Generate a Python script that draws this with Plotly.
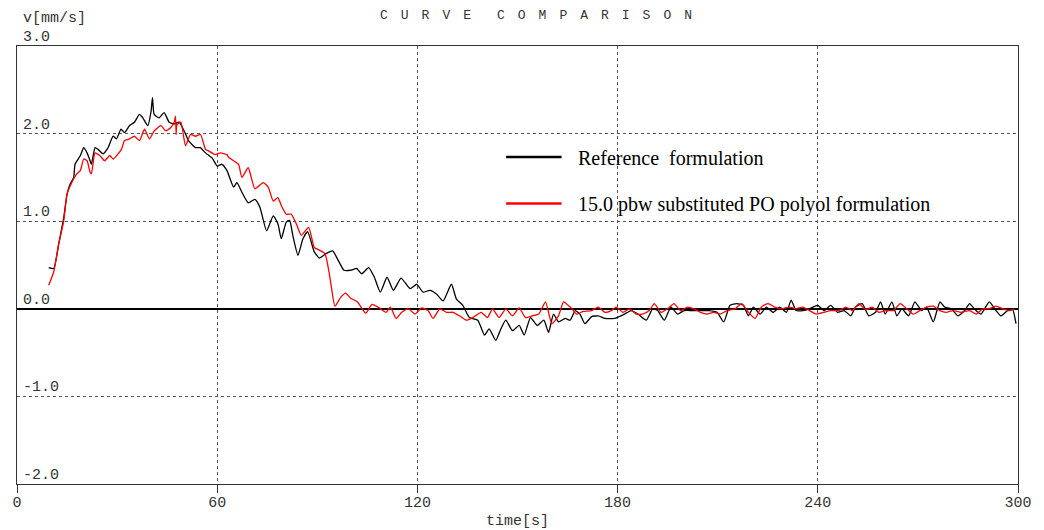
import plotly.graph_objects as go

# Velocity curves v[mm/s] over time[s]
ref_t = [9.5, 11, 12.5, 14, 15, 16, 17, 17.4, 19, 20, 21, 21.9, 22.3, 23.4, 24.3, 25.8, 27.3, 28.8, 29.8,
         31.2, 32.2, 33.7, 35.2, 36.7, 37.7, 39.2, 40.2, 40.6, 41.1, 42.6, 44.1, 45.6, 47.1, 48.6, 50.1,
         51.4, 53.5, 54.9, 56.5, 58.5, 60, 61.4, 62.9, 64.9, 65.9, 67.4, 69.3, 71.3, 72.8, 74.8, 76.8,
         78.2, 79.2, 80.7, 81.7, 82.7, 84.2, 85.7, 87.1, 89.1, 90.6, 92.6, 94.6, 96.3, 98, 100, 101.8,
         103.3, 105.4, 107.1, 108.9, 110.9, 112.8, 115.1, 117.8, 119.8, 121.7, 123.7, 125.7, 127.7, 130.2,
         131.7, 133.6, 135.6, 138.1, 140.1, 141.5, 143.5, 145, 146.5, 148.5, 150.5, 152, 153.9, 155.9,
         157.9, 159.3, 160.8, 162.3, 164.3, 165.8, 167.3, 168.7, 170.2, 172.2, 174.2, 176.2, 179.1, 182.1,
         184.1, 186.1, 188.6, 190.5, 192, 194, 196, 198, 199.9, 202.4, 204.8, 207.3, 209.8, 211.8, 213.7,
         215.7, 217.7, 219.2, 220.7, 222.7, 224.6, 226.6, 228.6, 230.6, 232, 233.5, 235.5, 237.5, 240,
         241.9, 243.9, 245.9, 247.9, 249.9, 251.3, 253.3, 255.3, 257.3, 258.8, 260.2, 262.2, 263.7, 265.2,
         267.2, 269.1, 271.1, 272.6, 274.6, 276.6, 278, 280, 282, 284, 285.5, 286.9, 288.9, 291.4, 293.4,
         294.9, 296.9, 298.4, 299.4]
ref_v = [0.47, 0.46, 0.74, 1.04, 1.31, 1.43, 1.50, 1.65, 1.75, 1.84, 1.78, 1.69, 1.65, 1.84, 1.82, 1.77, 1.84,
         1.97, 1.94, 2.05, 2.01, 2.09, 2.13, 2.22, 2.18, 2.09, 2.26, 2.41, 2.22, 2.18, 2.24, 2.13, 2.11, 2.13,
         2.03, 1.92, 1.84, 1.84, 1.78, 1.72, 1.63, 1.65, 1.58, 1.39, 1.44, 1.33, 1.21, 1.25, 1.16, 0.89, 1.06,
         0.97, 0.80, 0.99, 1.01, 0.83, 0.61, 0.80, 0.88, 0.65, 0.58, 0.63, 0.66, 0.55, 0.44, 0.44, 0.46,
         0.40, 0.47, 0.36, 0.19, 0.36, 0.21, 0.35, 0.23, 0.28, 0.19, 0.21, 0.17, 0.09, 0.28,
         0.11, 0.04, -0.10, -0.13, -0.30, -0.23, -0.36, -0.23, -0.13, -0.25, -0.19, -0.30, -0.10, -0.19,
         -0.13, -0.27, -0.06, -0.15, -0.11, -0.13, -0.02, -0.06, -0.17, -0.09, -0.08, -0.11, -0.11, -0.06,
         -0.02, -0.06, -0.13, 0.00, -0.02, -0.13, 0.02, -0.06, -0.02, -0.02, -0.02, -0.02, -0.04, -0.15, 0.04,
         0.06, 0.04, -0.08, 0.02, -0.06, 0.02, -0.04, 0.02, -0.04, 0.10, -0.02, -0.02, 0.00, 0.04,
         -0.02, 0.04, -0.04, -0.02, -0.08, 0.02, 0.06, -0.08, -0.04, 0.08, -0.06, 0.08, -0.08, 0.00,
         -0.08, 0.08, -0.02, 0.02, -0.15, 0.08, 0.02, 0.00, -0.08, -0.02, 0.06, 0.00, -0.06, 0.08, -0.02,
         -0.08, -0.02, -0.01, -0.17]

sub_t = [9.5, 11, 12.5, 14, 15, 16.4, 17.9, 19, 20, 21, 21.9, 22.3, 23.4, 24.8, 26.3, 27.8, 28.8, 31.3, 32.2,
         33.7, 35.2, 36.7, 38.2, 39.7, 41.1, 43.1, 44.6, 46.1, 47.1, 47.5, 47.7, 47.9, 49.1, 50.5, 52, 53.5,
         55, 56.5, 57.5, 59.4, 60.9, 62.9, 63.4, 64.9, 66.4, 67.4, 69.3, 71.3, 73.8, 75.3, 76.8, 78.2, 79.2,
         80.7, 82.2, 83.7, 85.2, 87.4, 89.1, 90.6, 92.3, 93.6, 94.1, 95.3, 97, 98.5, 100, 102, 104.5, 106.4,
         108.6, 110.6, 111.9, 113.6, 115.3, 117.3, 119.3, 121.3, 123.2, 124.7, 126.7, 128.7, 130.7, 132.6,
         134.6, 136.6, 139.1, 141, 142.5, 144.5, 146.5, 148.5, 150.5, 152.4, 154.4, 156.4, 158.4, 160.3,
         162.3, 163.8, 165.8, 167.7, 169.7, 172.2, 174.2, 176.2, 178.1, 179.6, 181.6, 183.6, 185.6, 187.5,
         189.5, 191, 193, 195, 196.9, 198.9, 200.9, 202.9, 204.8, 206.8, 208.8, 210.8, 212.8, 215.2, 217.2,
         219.2, 221.2, 223.1, 225.1, 227.1, 229.1, 231.5, 233.5, 235.5, 237.5, 239.5, 241.9, 243.9, 246.4,
         248.4, 250.4, 252.3, 254.3, 256.3, 258.3, 260.2, 262.7, 264.7, 266.7, 268.6, 270.6, 272.6, 274.6,
         276.6, 278.5, 280.5, 283, 285.5, 287.5, 289.4, 291.4, 293.4, 295.4, 297.4, 298.9]
sub_v = [0.27, 0.42, 0.74, 1.00, 1.31, 1.44, 1.54, 1.58, 1.71, 1.69, 1.56, 1.54, 1.78, 1.75, 1.69, 1.75, 1.71,
         1.82, 1.92, 1.94, 1.97, 1.92, 2.05, 1.94, 2.03, 2.09, 2.03, 2.07, 2.13, 2.20, 1.99, 2.10, 2.13, 1.86,
         1.99, 1.97, 1.99, 1.82, 1.80, 1.76, 1.78, 1.76, 1.73, 1.69, 1.65, 1.50, 1.61, 1.37, 1.44, 1.39, 1.23,
         1.27, 1.18, 1.08, 1.08, 0.97, 0.84, 0.93, 0.70, 0.67, 0.63, 0.40, 0.28, 0.03, 0.13, 0.18, 0.12, 0.08,
         -0.05, 0.05, 0.01, -0.04, 0.02, -0.11, -0.04, 0.00, -0.06, 0.01, -0.02, -0.11, 0.00, -0.04, -0.04,
         -0.08, -0.13, -0.10, -0.04, -0.10, 0.00, -0.10, 0.00, -0.08, 0.01, -0.10, -0.08, -0.06, 0.08, -0.17,
         -0.08, 0.08, 0.02, -0.06, -0.03, -0.02, 0.02, -0.04, -0.02, 0.02, -0.04, 0.00, -0.06, -0.06,
         -0.02, 0.06, -0.04, 0.00, 0.06, -0.02, 0.02, 0.00, -0.04, -0.06, -0.04, -0.06, -0.02, 0.00, 0.06,
         -0.04, -0.11, 0.02, 0.06, 0.02, 0.00, 0.02, 0.00, 0.02, -0.02, -0.06, -0.04, -0.02, -0.02,
         0.02, -0.02, 0.06, -0.01, 0.02, -0.04, -0.02, -0.02, 0.06, 0.00, -0.06, -0.02, 0.02, 0.03,
         -0.02, -0.04, -0.02, -0.04, -0.02, -0.06, 0.00, 0.00, 0.03, 0.00, -0.02, 0.00]

x_ticks = [0, 60, 120, 180, 240, 300]
y_ticks = [-2, -1, 0, 1, 2, 3]
y_tick_text = ["-2.0", "-1.0", "0.0", "1.0", "2.0", "3.0"]
series_names = ["Reference\u00a0 formulation", "15.0 pbw substituted PO polyol formulation"]
series_colors = ["#000000", "#ff0000"]

W, H = 1044, 530
ML, MR, MT, MB = 13, 20, 46, 46
PW, PH = W - ML - MR, H - MT - MB


def px_x(px):
    return (px - ML) / PW


def px_y(py):
    return (H - MB - py) / PH


MONO = "Liberation Mono, DejaVu Sans Mono, monospace"
SERIF = "Liberation Serif, Times New Roman, serif"
TXT = "#333333"

fig = go.Figure()
for t, v, name, col in [(ref_t, ref_v, series_names[0], series_colors[0]),
                        (sub_t, sub_v, series_names[1], series_colors[1])]:
    fig.add_trace(go.Scatter(x=t, y=v, mode="lines", name=name,
                             line=dict(color=col, width=1.3, shape="spline", smoothing=0.5),
                             showlegend=False))

annotations = []
# y tick labels sit inside the frame, just above each grid line
for val, txt in zip(y_ticks, y_tick_text):
    annotations.append(dict(x=px_x(17), xref="paper", y=val, yref="y", text=txt,
                            showarrow=False, xanchor="left", yanchor="bottom", yshift=-2,
                            font=dict(family=MONO, size=15, color=TXT)))
annotations.append(dict(x=px_x(17), xref="paper", y=px_y(29), yref="paper", text="v[mm/s]",
                        showarrow=False, xanchor="left", yanchor="bottom",
                        font=dict(family=MONO, size=15, color=TXT)))
annotations.append(dict(x=px_x(518), xref="paper", y=px_y(532), yref="paper", text="time[s]",
                        showarrow=False, xanchor="center", yanchor="bottom",
                        font=dict(family=MONO, size=15, color=TXT)))
title_txt = "\u2003".join("CURVE") + "\u2003\u2003" + "\u2003".join("COMPARISON")
annotations.append(dict(x=px_x(378), xref="paper", y=px_y(25), yref="paper", text=title_txt,
                        showarrow=False, xanchor="left", yanchor="bottom",
                        font=dict(family=MONO, size=13, color=TXT)))

# legend drawn as line samples plus serif labels
shapes = []
for i, (name, col) in enumerate(zip(series_names, series_colors)):
    ly = [157, 203.5][i]
    shapes.append(dict(type="line", xref="paper", yref="paper",
                       x0=px_x(507), x1=px_x(563), y0=px_y(ly), y1=px_y(ly),
                       line=dict(color=col, width=2.5)))
    annotations.append(dict(x=px_x(578), xref="paper", y=px_y(ly), yref="paper", text=name,
                            showarrow=False, xanchor="left", yanchor="middle", yshift=-1,
                            font=dict(family=SERIF, size=20, color="#000000")))

fig.update_layout(
    width=W, height=H,
    margin=dict(l=ML, r=MR, t=MT, b=MB),
    paper_bgcolor="white", plot_bgcolor="white",
    annotations=annotations, shapes=shapes,
    xaxis=dict(range=[0, 300], tickvals=x_ticks, ticks="outside", ticklen=8, tickcolor=TXT,
               ticklabelstandoff=-4,
               showline=True, mirror=True, linecolor=TXT, linewidth=1.3,
               showgrid=True, gridcolor="#555555", griddash="3px,3px", gridwidth=1.3,
               zeroline=False,
               tickfont=dict(family=MONO, size=15, color=TXT)),
    yaxis=dict(range=[-2, 3], tickvals=y_ticks, showticklabels=False, ticks="",
               showline=True, mirror=True, linecolor=TXT, linewidth=1.3,
               showgrid=True, gridcolor="#555555", griddash="3px,3px", gridwidth=1.3,
               zeroline=True, zerolinecolor="#000000", zerolinewidth=1.6),
)

fig.write_html("out.html")
